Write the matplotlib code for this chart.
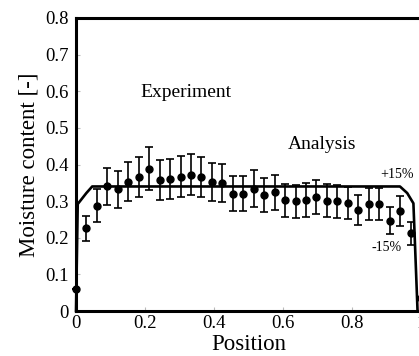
import numpy as np
import matplotlib
matplotlib.use("Agg")
import matplotlib.pyplot as plt

plt.rcParams['font.family'] = ['Liberation Serif', 'DejaVu Serif']

# experiment (34 equally spaced positions)
pos = np.linspace(0, 1, 34)
moist = [0.059, 0.226, 0.288, 0.340, 0.332, 0.353, 0.365, 0.389, 0.357, 0.361,
         0.367, 0.372, 0.366, 0.352, 0.349, 0.320, 0.320, 0.334, 0.316, 0.324,
         0.302, 0.299, 0.303, 0.312, 0.301, 0.299, 0.294, 0.276, 0.292, 0.292,
         0.247, 0.274, 0.212, 0.036]
err = [0.0, 0.034, 0.044, 0.050, 0.050, 0.053, 0.055, 0.058, 0.054, 0.054,
       0.055, 0.056, 0.055, 0.053, 0.052, 0.048, 0.048, 0.050, 0.047, 0.048,
       0.045, 0.045, 0.046, 0.047, 0.045, 0.045, 0.044, 0.041, 0.044, 0.044,
       0.037, 0.041, 0.032, 0.0]

# analysis curve
xa = [0.0, 0.005, 0.03, 0.047, 0.5, 0.939, 0.96, 0.978, 0.99]
ya = [0.0, 0.292, 0.322, 0.340, 0.340, 0.340, 0.322, 0.294, 0.0]

fig = plt.figure(figsize=(4.19, 3.56), dpi=100)
ax = fig.add_axes([76/419, 45/356, 345/419, 293/356])

ax.plot(xa, ya, color='black', lw=1.9, clip_on=False)
ax.errorbar(pos, moist, yerr=err, fmt='o', color='black', ms=5,
            elinewidth=1.2, capsize=2.8, capthick=1.2, clip_on=False)

ax.text(0.318, 0.597, 'Experiment', ha='center', va='center', fontsize=14)
ax.text(0.713, 0.454, 'Analysis', ha='center', va='center', fontsize=14)
ax.text(0.93, 0.374, '+15%', ha='center', va='center', fontsize=10)
ax.text(0.90, 0.173, '-15%', ha='center', va='center', fontsize=10)

ax.set_xlim(0, 1)
ax.set_ylim(0, 0.8)
ax.set_xticks([0, 0.2, 0.4, 0.6, 0.8, 1])
ax.set_xticklabels(['0', '0.2', '0.4', '0.6', '0.8', '1'])
ax.set_yticks(np.arange(0, 0.81, 0.1))
ax.set_yticklabels(['0', '0.1', '0.2', '0.3', '0.4', '0.5', '0.6', '0.7', '0.8'])
ax.tick_params(direction='in', length=3, width=0.8, color='#bbbbbb',
               labelsize=13.5, pad=5)
ax.tick_params(axis='x', pad=3)
ax.set_xlabel('Position', fontsize=16.5, labelpad=1)
ax.set_ylabel('Moisture content [-]', fontsize=16.5, labelpad=4)

for s in ['left', 'bottom', 'top']:
    ax.spines[s].set_linewidth(2.2)
ax.spines['right'].set_visible(False)

fig.savefig('out.png', dpi=100)
